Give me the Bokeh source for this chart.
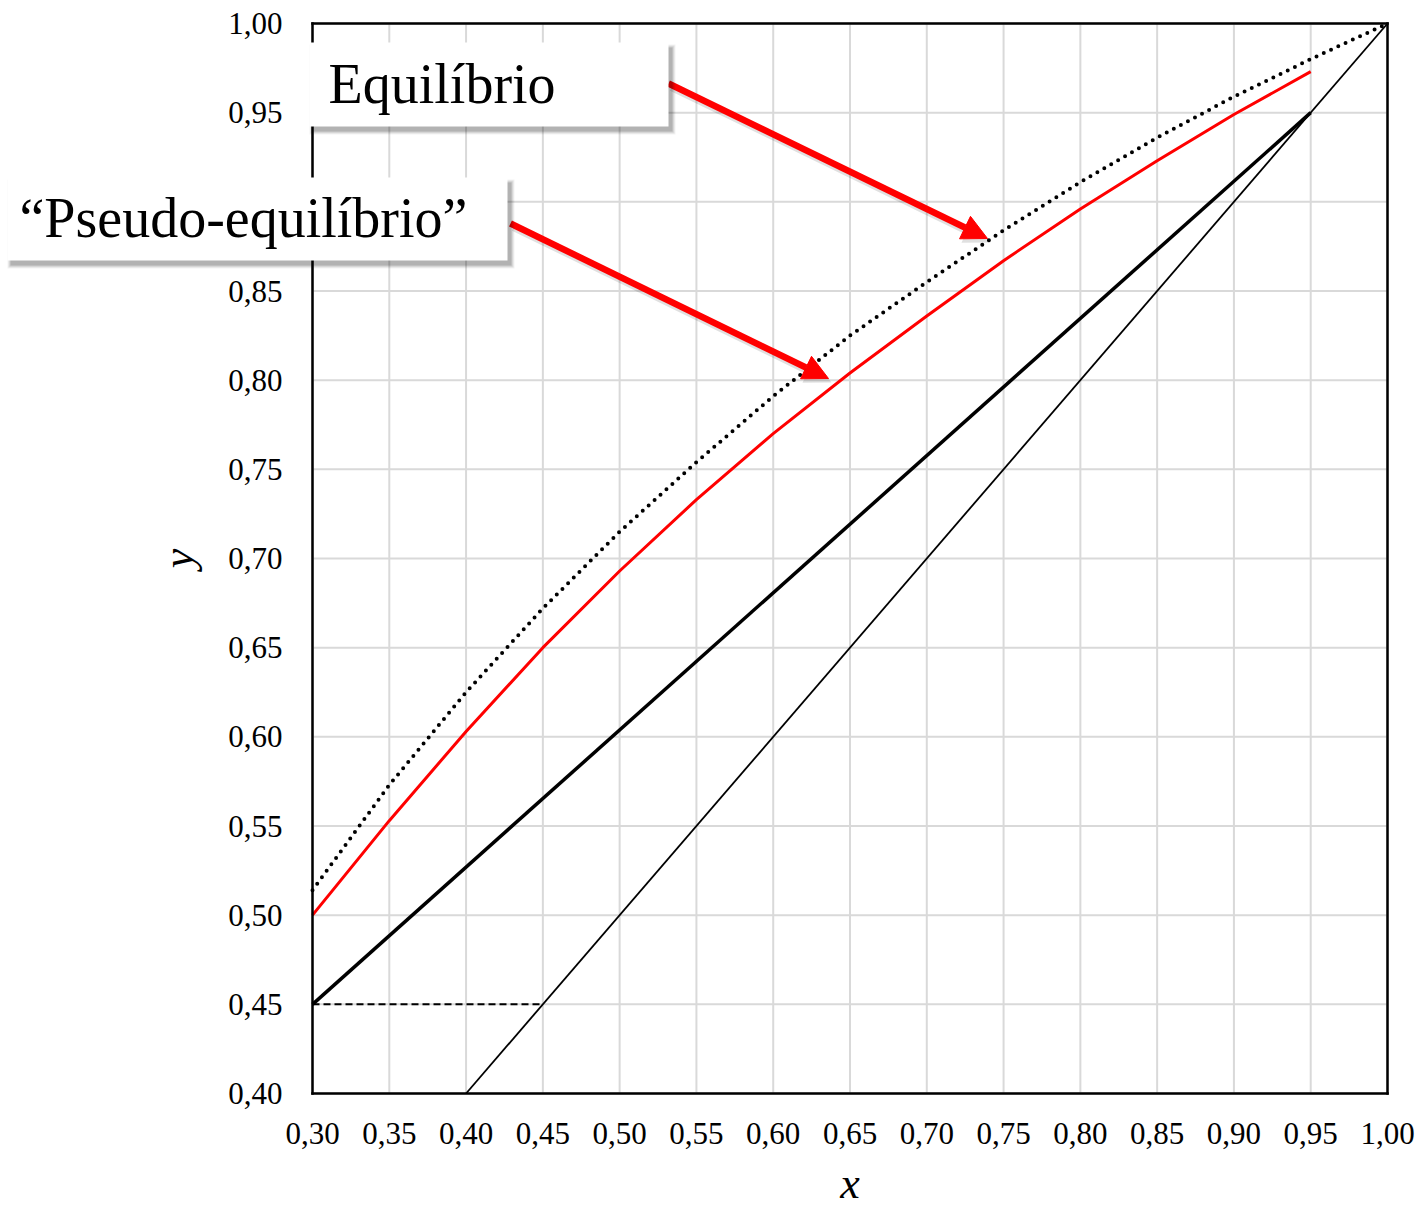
from bokeh.plotting import figure
from bokeh.models import (Range1d, FixedTicker, CustomJSTickFormatter, BoxAnnotation,
                          Label, Arrow, NormalHead, LinearAxis)
from bokeh.embed import file_html
from bokeh.resources import INLINE

# ---------------- data ----------------
x_ticks = [0.30, 0.35, 0.40, 0.45, 0.50, 0.55, 0.60, 0.65, 0.70, 0.75, 0.80, 0.85, 0.90, 0.95, 1.00]
y_ticks = [0.40, 0.45, 0.50, 0.55, 0.60, 0.65, 0.70, 0.75, 0.80, 0.85, 0.90, 0.95, 1.00]

eq_x = [0.30, 0.35, 0.40, 0.45, 0.50, 0.55, 0.60, 0.65, 0.70, 0.75, 0.80, 0.85, 0.90, 0.95, 1.00]
eq_y = [0.514, 0.573, 0.625, 0.672, 0.715, 0.754, 0.791, 0.825, 0.855, 0.884, 0.911, 0.936, 0.959, 0.980, 1.000]

pseudo_x = [0.30, 0.35, 0.40, 0.45, 0.50, 0.55, 0.60, 0.65, 0.70, 0.75, 0.80, 0.85, 0.90, 0.95]
pseudo_y = [0.500, 0.553, 0.603, 0.650, 0.693, 0.733, 0.770, 0.804, 0.836, 0.867, 0.896, 0.923, 0.949, 0.973]

op_x = [0.30, 0.95]
op_y = [0.45, 0.95]

diag_x = [0.40, 1.00]
diag_y = [0.40, 1.00]

dash_x = [0.30, 0.45]
dash_y = [0.45, 0.45]

label_eq = "Equilíbrio"
label_pseudo = "“Pseudo-equilíbrio”"

FONT = "Liberation Serif"

# ---------------- geometry ----------------
W, H = 1422, 1206
FL, FR, FT, FB = 312, 1387, 23, 1093          # where the chart box sits, in pixels
XA, XB = x_ticks[0], x_ticks[-1]
YA, YB = y_ticks[0], y_ticks[-1]
KX = (XB - XA) / (FR - FL)
KY = (YB - YA) / (FB - FT)


def sx(px):
    return XA + (px - FL) * KX


def sy(py):
    return YB - (py - FT) * KY


# the frame spans the whole canvas so the callouts are never clipped;
# the axes are pinned to the chart box with fixed_location
p = figure(width=W, height=H, output_backend="svg", toolbar_location=None,
           x_range=Range1d(sx(0), sx(W)), y_range=Range1d(sy(H), sy(0)),
           x_axis_type=None, y_axis_type=None, min_border=0)
p.background_fill_color = "white"
p.border_fill_color = "white"
p.outline_line_color = None

fmt = CustomJSTickFormatter(code="return tick.toFixed(2).replace('.', ',');")

xaxis = LinearAxis(fixed_location=YA, bounds=(XA, XB), ticker=FixedTicker(ticks=x_ticks),
                   formatter=fmt, axis_label="x")
yaxis = LinearAxis(fixed_location=XA, bounds=(YA, YB), ticker=FixedTicker(ticks=y_ticks),
                   formatter=fmt, axis_label="y")
top = LinearAxis(fixed_location=YB, bounds=(XA, XB), ticker=FixedTicker(ticks=[]))
right = LinearAxis(fixed_location=XB, bounds=(YA, YB), ticker=FixedTicker(ticks=[]))

for ax in (xaxis, yaxis, top, right):
    ax.axis_line_color = "black"
    ax.axis_line_width = 2.5
    ax.axis_line_cap = "square"
    ax.major_tick_line_color = None
    ax.minor_tick_line_color = None
for ax in (xaxis, yaxis):
    ax.major_label_text_font = FONT
    ax.major_label_text_font_size = "31px"
    ax.major_label_text_color = "black"
    ax.axis_label_text_font = FONT
    ax.axis_label_text_font_size = "44px"
    ax.axis_label_text_font_style = "italic"
    ax.axis_label_text_color = "black"
xaxis.major_label_standoff = 23
yaxis.major_label_standoff = 24
xaxis.axis_label_standoff = 12
yaxis.axis_label_standoff = 22

p.add_layout(xaxis, "below")
p.add_layout(yaxis, "left")
p.add_layout(top, "above")
p.add_layout(right, "right")

# grid lines limited to the chart box
p.segment(x0=x_ticks, y0=[YA] * len(x_ticks), x1=x_ticks, y1=[YB] * len(x_ticks),
          line_color="#d9d9d9", line_width=2)
p.segment(x0=[XA] * len(y_ticks), y0=y_ticks, x1=[XB] * len(y_ticks), y1=y_ticks,
          line_color="#d9d9d9", line_width=2)

# ---------------- series ----------------
p.line(diag_x, diag_y, line_color="black", line_width=1.8)
p.line(op_x, op_y, line_color="black", line_width=3.5)
p.line(dash_x, dash_y, line_color="black", line_width=2, line_dash="7 4")
p.line(pseudo_x, pseudo_y, line_color="#ff0000", line_width=3, line_join="round")
p.line(eq_x, eq_y, line_color="black", line_width=4, line_dash="0 8", line_cap="round")

# ---------------- callouts ----------------


def arrow(x0, y0, x1, y1):
    p.add_layout(Arrow(x_start=sx(x0 + 3), y_start=sy(y0 + 4), x_end=sx(x1 + 3), y_end=sy(y1 + 4),
                       line_color="black", line_alpha=0.12, line_width=7,
                       end=NormalHead(size=26, fill_color="black", fill_alpha=0.12,
                                      line_color=None)))
    p.add_layout(Arrow(x_start=sx(x0), y_start=sy(y0), x_end=sx(x1), y_end=sy(y1),
                       line_color="#ff0000", line_width=6.5,
                       end=NormalHead(size=25, fill_color="#ff0000", line_color="#ff0000",
                                      line_width=1)))


def shadow_box(L, R, T, B):
    for e, a in ((6, 0.05), (4, 0.07), (2, 0.09), (0, 0.12)):
        p.add_layout(BoxAnnotation(left=sx(L + 3 - e / 2), right=sx(R + 4 + e / 2),
                                   top=sy(T + 5 - e / 2), bottom=sy(B + 5 + e / 2),
                                   fill_color="black", fill_alpha=a, line_color=None))
    p.add_layout(BoxAnnotation(left=sx(L), right=sx(R), top=sy(T), bottom=sy(B),
                               fill_color="white", fill_alpha=1.0, line_color=None))


arrow(668, 83, 987, 238)
arrow(510, 223, 828, 378)

shadow_box(309, 668, 42, 126)
p.add_layout(Label(x=sx(328), y=sy(83), text=label_eq, text_font=FONT,
                   text_font_size="56px", text_color="black", text_baseline="alphabetic",
                   text_align="left"))

shadow_box(7, 507, 177, 260)
p.add_layout(Label(x=sx(19), y=sy(217), text=label_pseudo, text_font=FONT,
                   text_font_size="56px", text_color="black", text_baseline="alphabetic",
                   text_align="left"))

open("out.html", "w").write(file_html(p, INLINE))
